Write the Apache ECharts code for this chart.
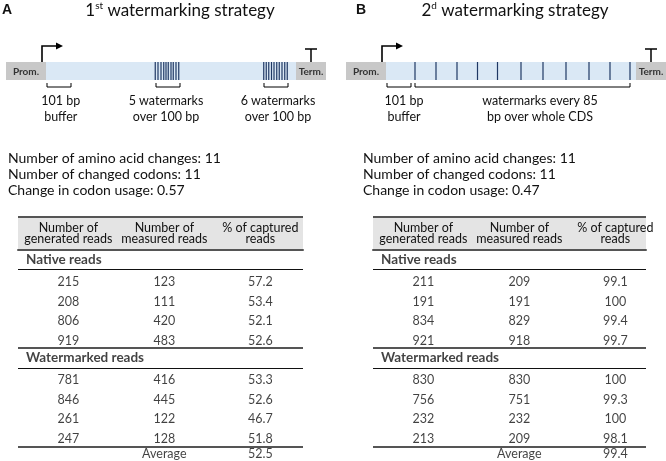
<!DOCTYPE html>
<html><head><meta charset="utf-8">
<script src="https://cdn.jsdelivr.net/npm/echarts@6/dist/echarts.min.js"></script>
<style>html,body{margin:0;padding:0;background:#fff}#c{width:666px;height:461px}</style>
</head><body><div id="c"></div>
<script>
// ---------------- data ----------------
const panelLetters = ['A', 'B'];
const strategyOrdinals = [['1', 'st'], ['2', 'd']];
const strategyTitle = ' watermarking strategy';

const statLabels = ['Number of amino acid changes: ', 'Number of changed codons: ', 'Change in codon usage: '];
const aminoAcidChanges = [11, 11];
const changedCodons = [11, 11];
const codonUsageChange = [0.57, 0.47];

const tableHeaders = ['Number of\ngenerated reads', 'Number of\nmeasured reads', '% of captured\nreads'];
const sectionNames = ['Native reads', 'Watermarked reads'];
const averageLabel = 'Average';

const A_nativeGenerated = [215, 208, 806, 919];
const A_nativeMeasured  = [123, 111, 420, 483];
const A_nativePercent   = [57.2, 53.4, 52.1, 52.6];
const A_wmGenerated     = [781, 846, 261, 247];
const A_wmMeasured      = [416, 445, 122, 128];
const A_wmPercent       = [53.3, 52.6, 46.7, 51.8];
const A_average         = 52.5;

const B_nativeGenerated = [211, 191, 834, 921];
const B_nativeMeasured  = [209, 191, 829, 918];
const B_nativePercent   = [99.1, 100, 99.4, 99.7];
const B_wmGenerated     = [830, 756, 232, 213];
const B_wmMeasured      = [830, 751, 232, 209];
const B_wmPercent       = [100, 99.3, 100, 98.1];
const B_average         = 99.4;

// gene construct (bp along the construct)
const segmentNames = ['Prom.', '', 'Term.'];
const segmentsBp = [[-160, 0], [0, 1000], [1000, 1120]];
const A_watermarksBp = [437, 448, 460, 471, 480, 489, 500, 509, 520, 531,
                        871, 881, 891, 902, 912, 923, 933, 944, 955, 965];
const B_watermarksBp = [116, 200, 284, 366, 446, 540, 628, 720, 812, 896, 976];
const A_bracketsBp = [[4, 100, 59], [440, 536, 480], [872, 968, 928]];
const A_bracketTexts = ['101 bp\nbuffer', '5 watermarks\nover 100 bp', '6 watermarks\nover 100 bp'];
const B_bracketsBp = [[4, 100, 72], [116, 976, 616]];
const B_bracketTexts = ['101 bp\nbuffer', 'watermarks every 85\nbp over whole CDS'];

// ---------------- styling ----------------
const FONT = 'Lato, "Noto Sans", sans-serif';
const TXT = '#111';
const GRAY_BOX = '#c8c8c8';
const CDS_FILL = '#dae8f5';
const NAVY = '#1f3864';
const TABLE_X_MIN = -0.5243;

const chart = echarts.init(document.getElementById('c'), null, {renderer: 'canvas'});

function segRender(params, api) {
  const i = params.dataIndex;
  const p0 = api.coord([api.value(0), 1]);
  const p1 = api.coord([api.value(1), 0]);
  const children = [{
    type: 'rect',
    shape: {x: p0[0], y: p0[1], width: p1[0] - p0[0], height: p1[1] - p0[1]},
    style: {fill: i === 1 ? CDS_FILL : GRAY_BOX}
  }];
  const cx = (p0[0] + p1[0]) / 2, cy = (p0[1] + p1[1]) / 2, top = p0[1];
  if (segmentNames[i]) {
    children.push({type: 'text', style: {text: segmentNames[i], x: cx, y: cy + 0.5, align: 'center', verticalAlign: 'middle',
      fontFamily: FONT, fontWeight: 'bold', fontSize: 10, fill: '#333'}});
  }
  if (i === 0) {
    const x = p1[0] - 4;
    children.push({type: 'polyline', shape: {points: [[x, top], [x, top - 16], [x + 15, top - 16]]},
      style: {stroke: '#000', lineWidth: 1.6, fill: null}});
    children.push({type: 'polygon', shape: {points: [[x + 21, top - 16], [x + 14, top - 19.5], [x + 14, top - 12.5]]},
      style: {fill: '#000'}});
  }
  if (i === 2) {
    children.push({type: 'line', shape: {x1: cx, y1: top, x2: cx, y2: top - 13}, style: {stroke: '#000', lineWidth: 1.5}});
    children.push({type: 'line', shape: {x1: cx - 6, y1: top - 13, x2: cx + 6, y2: top - 13}, style: {stroke: '#000', lineWidth: 1.5}});
  }
  return {type: 'group', children};
}

function wmRender(params, api) {
  const a = api.coord([api.value(0), 0]);
  const b = api.coord([api.value(0), 1]);
  return {type: 'line', shape: {x1: a[0], y1: a[1], x2: b[0], y2: b[1]}, style: {stroke: NAVY, lineWidth: 1.2}};
}

function makeBracketRender(texts) {
  return function (params, api) {
    const a = api.coord([api.value(0), 0]);
    const b = api.coord([api.value(1), 0]);
    const l = api.coord([api.value(2), 0]);
    const y = a[1] + 7;
    return {type: 'group', children: [
      {type: 'polyline', shape: {points: [[a[0], y - 4], [a[0], y], [b[0], y], [b[0], y - 4]]},
        style: {stroke: '#000', lineWidth: 1, fill: null}},
      {type: 'text', style: {text: texts[params.dataIndex], x: l[0], y: y + 22, align: 'center', verticalAlign: 'middle',
        lineHeight: 16, fontFamily: FONT, fontSize: 12.5, fill: TXT}}
    ]};
  };
}

function tableCells(nativeCols, wmCols) {
  const n = nativeCols[0].length;
  const cells = [];
  nativeCols.forEach((col, c) => col.forEach((v, r) => cells.push({value: [c, 1 + r], name: String(v)})));
  wmCols.forEach((col, c) => col.forEach((v, r) => cells.push({value: [c, n + 2 + r], name: String(v)})));
  return cells;
}

function tableSeries(idx, nativeCols, wmCols, avg) {
  const n = nativeCols[0].length;
  const baseLabel = {show: true, position: 'inside', fontFamily: FONT, fontSize: 12.5, color: TXT, formatter: '{b}'};
  const thin = {color: '#111', width: 1, type: 'solid'};
  const thick = {color: '#555', width: 2, type: 'solid'};
  return [
    {type: 'scatter', xAxisIndex: idx, yAxisIndex: idx, symbolSize: 0, silent: true,
      data: tableCells(nativeCols, wmCols), label: Object.assign({}, baseLabel, {offset: [0, 2.5]}),
      markLine: {silent: true, symbol: 'none', label: {show: false},
        data: [
          {yAxis: 0.5, lineStyle: thin},
          {yAxis: n + 0.5, lineStyle: thick},
          {yAxis: n + 1.5, lineStyle: thin},
          {yAxis: 2 * n + 1.5, lineStyle: thick}
        ]}},
    {type: 'scatter', xAxisIndex: idx, yAxisIndex: idx, symbolSize: 0, silent: true,
      data: [{value: [TABLE_X_MIN, 0], name: sectionNames[0]}, {value: [TABLE_X_MIN, n + 1], name: sectionNames[1]}],
      label: Object.assign({}, baseLabel, {align: 'left', offset: [8, 0], fontWeight: 'bold', fontSize: 13.5})},
    {type: 'scatter', xAxisIndex: idx, yAxisIndex: idx, symbolSize: 0, silent: true,
      data: [{value: [1, 2 * n + 2], name: averageLabel}, {value: [2, 2 * n + 2], name: String(avg)}],
      label: Object.assign({}, baseLabel, {offset: [0, -2]})}
  ];
}

const diagramX = {type: 'value', min: -160, max: 1120, show: false};
const diagramY = {type: 'value', min: 0, max: 1, show: false};
function tableX(gi, max) {
  return {type: 'value', gridIndex: gi, min: TABLE_X_MIN, max: max, position: 'top',
    axisLine: {show: true, onZero: false, lineStyle: {color: '#555', width: 2}},
    axisTick: {show: false}, splitLine: {show: false},
    axisLabel: {show: true, customValues: [0, 1, 2], formatter: v => tableHeaders[Math.round(v)] || '',
      margin: 6, fontFamily: FONT, fontSize: 12.5, lineHeight: 10.5, color: TXT}};
}
const tableY = gi => ({type: 'value', gridIndex: gi, inverse: true, min: -0.5, max: 10.5, show: false});

function titleText(i, x) {
  return {type: 'text', style: {
    text: '{m|' + strategyOrdinals[i][0] + '}{s|' + strategyOrdinals[i][1] + '}{m|' + strategyTitle + '}',
    x: x, y: 11, align: 'center', verticalAlign: 'middle',
    rich: {
      m: {fontFamily: FONT, fontSize: 17, lineHeight: 20, fill: TXT},
      s: {fontFamily: FONT, fontSize: 10, lineHeight: 20, verticalAlign: 'top', fill: TXT, padding: [0, 0, 10, 0]}
    }}};
}
function statsText(i, x) {
  return {type: 'text', style: {
    text: statLabels[0] + aminoAcidChanges[i] + '\n' + statLabels[1] + changedCodons[i] + '\n' + statLabels[2] + codonUsageChange[i],
    x: x, y: 174, verticalAlign: 'middle', lineHeight: 16, fontFamily: FONT, fontSize: 14, fill: TXT}};
}

const option = {
  animation: false,
  backgroundColor: '#fff',
  grid: [
    {left: 6, top: 62, width: 320, height: 18, outerBoundsMode: 'none'},
    {left: 346, top: 62, width: 320, height: 18, outerBoundsMode: 'none'},
    {left: 18, top: 250, width: 285, height: 216, outerBoundsMode: 'none'},
    {left: 373, top: 250, width: 273, height: 216, outerBoundsMode: 'none'}
  ],
  xAxis: [
    Object.assign({gridIndex: 0}, diagramX),
    Object.assign({gridIndex: 1}, diagramX),
    tableX(2, 2.4445),
    tableX(3, 2.3194)
  ],
  yAxis: [
    Object.assign({gridIndex: 0}, diagramY),
    Object.assign({gridIndex: 1}, diagramY),
    tableY(2),
    tableY(3)
  ],
  graphic: {elements: [
    {type: 'text', style: {text: panelLetters[0], x: 2, y: 10, verticalAlign: 'middle', fontFamily: '"Liberation Sans", Arial, sans-serif', fontWeight: 'bold', fontSize: 14, fill: '#111'}},
    {type: 'text', style: {text: panelLetters[1], x: 356, y: 10, verticalAlign: 'middle', fontFamily: '"Liberation Sans", Arial, sans-serif', fontWeight: 'bold', fontSize: 14, fill: '#111'}},
    titleText(0, 180),
    titleText(1, 515),
    statsText(0, 8),
    statsText(1, 363),
    {type: 'rect', z: -1, shape: {x: 18, y: 217, width: 285, height: 33}, style: {fill: '#e4e4e4'}},
    {type: 'rect', z: -1, shape: {x: 373, y: 217, width: 273, height: 33}, style: {fill: '#e4e4e4'}},
    {type: 'line', shape: {x1: 18, y1: 217, x2: 303, y2: 217}, style: {stroke: '#555', lineWidth: 2}},
    {type: 'line', shape: {x1: 373, y1: 217, x2: 646, y2: 217}, style: {stroke: '#555', lineWidth: 2}}
  ]},
  series: [
    {type: 'custom', xAxisIndex: 0, yAxisIndex: 0, silent: true, renderItem: segRender, data: segmentsBp},
    {type: 'custom', xAxisIndex: 1, yAxisIndex: 1, silent: true, renderItem: segRender, data: segmentsBp},
    {type: 'custom', xAxisIndex: 0, yAxisIndex: 0, silent: true, renderItem: wmRender, data: A_watermarksBp.map(p => [p, 0])},
    {type: 'custom', xAxisIndex: 1, yAxisIndex: 1, silent: true, renderItem: wmRender, data: B_watermarksBp.map(p => [p, 0])},
    {type: 'custom', xAxisIndex: 0, yAxisIndex: 0, silent: true, renderItem: makeBracketRender(A_bracketTexts), data: A_bracketsBp},
    {type: 'custom', xAxisIndex: 1, yAxisIndex: 1, silent: true, renderItem: makeBracketRender(B_bracketTexts), data: B_bracketsBp},
    ...tableSeries(2, [A_nativeGenerated, A_nativeMeasured, A_nativePercent], [A_wmGenerated, A_wmMeasured, A_wmPercent], A_average),
    ...tableSeries(3, [B_nativeGenerated, B_nativeMeasured, B_nativePercent], [B_wmGenerated, B_wmMeasured, B_wmPercent], B_average)
  ]
};
chart.setOption(option);
</script>
</body></html>
